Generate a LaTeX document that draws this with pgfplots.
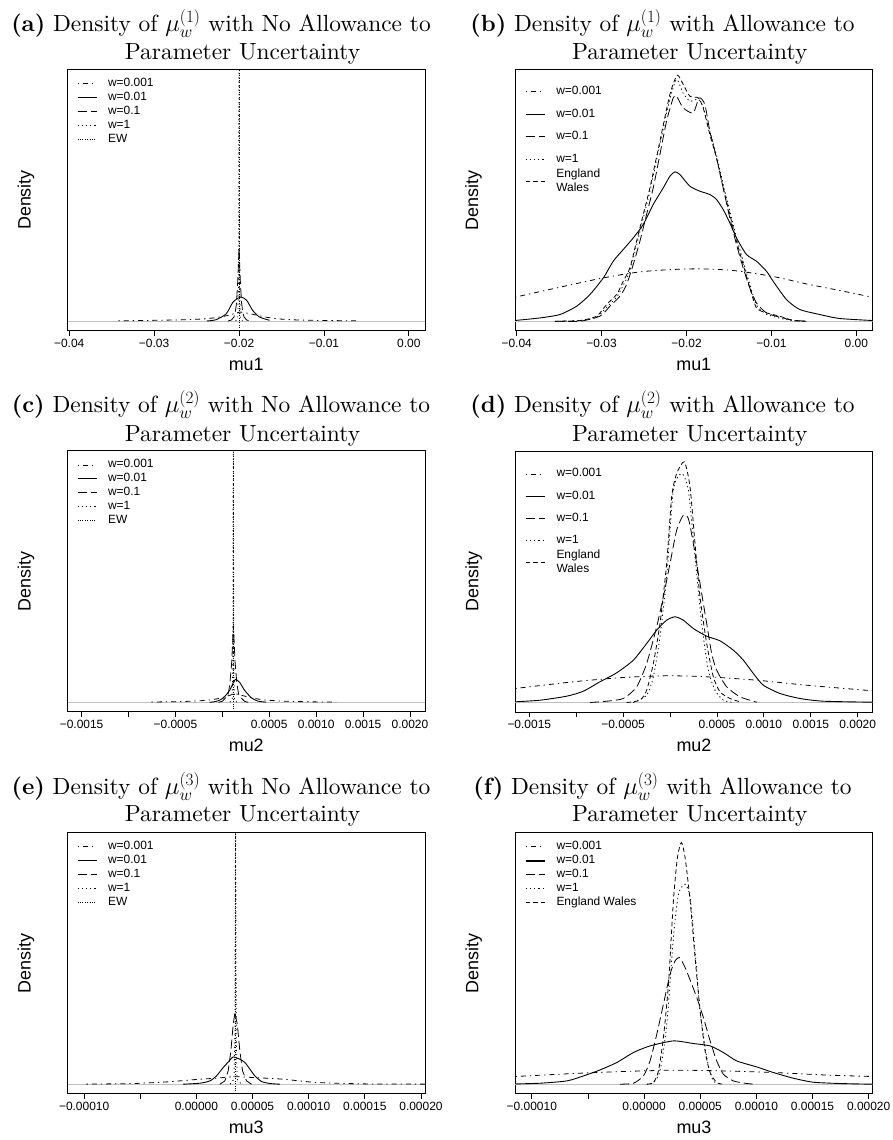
\documentclass[border=0pt]{standalone}
\usepackage{fontspec}
\usepackage{pgfplots}
\pgfplotsset{compat=1.18}
\newfontfamily\arial{Liberation Sans}
\newfontfamily\titrm{lmroman10-regular.otf}[BoldFont=lmroman10-bold.otf]
\newcommand\tickfont{\arial\fontsize{12}{14}\selectfont}
\newcommand\labfont{\arial\fontsize{18}{21}\selectfont}
\newcommand\legfont{\arial\fontsize{12}{14}\selectfont}
\newcommand\titfont{\titrm\fontsize{23.5}{28}\selectfont}
\newcommand\lt[1]{{\legfont\strut #1}}
\tikzset{
  s001/.style={black,line width=0.8bp,dash pattern=on 1.3bp off 4bp on 5bp off 4bp},
  s01/.style={black,line width=0.9bp},
  s1/.style={black,line width=0.8bp,dash pattern=on 9bp off 4bp},
  sw1/.style={black,line width=0.8bp,dash pattern=on 1.2bp off 3bp},
  sEWa/.style={black,line width=0.8bp,dash pattern=on 1bp off 1.4bp},
  sEW/.style={black,line width=0.8bp,dash pattern=on 4.5bp off 3bp},
  gline/.style={black!25,line width=0.9bp},
}
\pgfplotsset{
  rpanel/.style={
    anchor=north west, scale only axis, width=357.5bp, height=261bp,
    ymin=-9.5, ymax=251.5, ytick=\empty, xtick pos=bottom, tick align=outside,
    major tick length=5bp, scaled x ticks=false,
    axis line style={line width=0.75bp},
    every tick/.style={black,line width=0.75bp},
    xticklabel style={font=\tickfont},
    ylabel={Density},
    ylabel style={font=\labfont, at={(axis description cs:-0.116,0.5)}, anchor=center},
    xlabel style={font=\labfont, at={(axis description cs:0.5,-0.153)}, anchor=base},
    legend style={draw=none, fill=none, at={(axis description cs:0,1)}, anchor=north west,
      xshift=9.5bp, font=\legfont, inner sep=0bp, row sep=0bp, column sep=11bp,
      nodes={inner sep=0bp, text height=9.8pt, text depth=4.2pt}},
    legend cell align=left,
    legend image code/.code={\draw[##1] (0bp,0bp) -- (19bp,0bp);},
  },
  xa/.style={xmin=-0.0402, xmax=0.0019, xtick={-0.04,-0.03,-0.02,-0.01,0},
    xticklabels={−0.04,−0.03,−0.02,−0.01,0.00}, xlabel={mu1}},
  xc/.style={xmin=-0.00165, xmax=0.00216,
    xtick={-0.0015,-0.001,-0.0005,0,0.0005,0.001,0.0015,0.002},
    xticklabels={−0.0015,,−0.0005,,0.0005,0.0010,0.0015,0.0020}, xlabel={mu2}},
  xe/.style={xmin=-0.0001148, xmax=0.0002036,
    xtick={-0.0001,-0.00005,0,0.00005,0.0001,0.00015,0.0002},
    xticklabels={−0.00010,,0.00000,0.00005,0.00010,0.00015,0.00020}, xlabel={mu3}},
}
\begin{document}
\begin{tikzpicture}
\useasboundingbox (0bp,0bp) rectangle (893bp,-1140bp);

% ---------------- titles ----------------
\node[anchor=base] at (221bp,-31.7bp) {\titfont\textbf{(a)} Density of $\mu_w^{(1)}$ with No Allowance to};
\node[anchor=base] at (242.5bp,-59.3bp) {\titfont Parameter Uncertainty};
\node[anchor=base] at (662.5bp,-31.7bp) {\titfont\textbf{(b)} Density of $\mu_w^{(1)}$ with Allowance to};
\node[anchor=base] at (689.7bp,-59.3bp) {\titfont Parameter Uncertainty};
\node[anchor=base] at (221bp,-412.7bp) {\titfont\textbf{(c)} Density of $\mu_w^{(2)}$ with No Allowance to};
\node[anchor=base] at (242.5bp,-441bp) {\titfont Parameter Uncertainty};
\node[anchor=base] at (662.5bp,-412.7bp) {\titfont\textbf{(d)} Density of $\mu_w^{(2)}$ with Allowance to};
\node[anchor=base] at (689.7bp,-441bp) {\titfont Parameter Uncertainty};
\node[anchor=base] at (221bp,-794bp) {\titfont\textbf{(e)} Density of $\mu_w^{(3)}$ with No Allowance to};
\node[anchor=base] at (242.5bp,-821.7bp) {\titfont Parameter Uncertainty};
\node[anchor=base] at (662.5bp,-794bp) {\titfont\textbf{(f)} Density of $\mu_w^{(3)}$ with Allowance to};
\node[anchor=base] at (689.7bp,-821.7bp) {\titfont Parameter Uncertainty};

% ---------------- (a) ----------------
\begin{axis}[rpanel, xa, at={(67.5bp,-69.5bp)}, legend style={yshift=-7bp}]
\addplot[gline, forget plot] coordinates {(-0.0402,0) (0.0019,0)};
\addplot[s001, smooth, tension=0.4, forget plot] coordinates {(-0.0342,0.2) (-0.0305,0.6) (-0.0266,1.2) (-0.0238,2.3) (-0.0219,4.5) (-0.0207,7) (-0.0199,9) (-0.0191,8) (-0.0180,6) (-0.0168,3.8) (-0.0152,2) (-0.0130,1) (-0.0100,0.5) (-0.0062,0.2)};
\addplot[s01, smooth, tension=0.4, forget plot] coordinates {(-0.0238,0) (-0.0227,1.3) (-0.0215,7.3) (-0.0207,19) (-0.0198,24) (-0.0191,20.7) (-0.0184,10.7) (-0.0176,4) (-0.0164,0.7)};
\addplot[s1, forget plot] coordinates {(-0.0213,0) (-0.0209,1) (-0.0206,4) (-0.02045,8) (-0.0203,18) (-0.02015,40) (-0.0200,73) (-0.01985,40) (-0.0197,18) (-0.01955,8) (-0.0194,4) (-0.0191,1) (-0.0187,0)};
\addplot[sw1, forget plot] coordinates {(-0.0204,0) (-0.02015,3) (-0.02005,40) (-0.0200,300) (-0.01995,40) (-0.01985,3) (-0.0196,0)};
\addplot[sEWa, forget plot] coordinates {(-0.0200,-9.5) (-0.0200,251.5)};
\addlegendimage{s001}\addlegendentry{\lt{w=0.001}}
\addlegendimage{s01}\addlegendentry{\lt{w=0.01}}
\addlegendimage{s1}\addlegendentry{\lt{w=0.1}}
\addlegendimage{sw1}\addlegendentry{\lt{w=1}}
\addlegendimage{sEWa}\addlegendentry{\lt{EW}}
\end{axis}

% ---------------- (b) ----------------
\begin{axis}[rpanel, xa, at={(515bp,-69.7bp)}, legend style={yshift=-15bp, row sep=8.5bp}]
\addplot[gline, forget plot] coordinates {(-0.0402,0) (0.0019,0)};
\addplot[s001, smooth, tension=0.5, forget plot] coordinates {(-0.040196,24) (-0.035294,33.3) (-0.029804,43.3) (-0.025490,49.3) (-0.021569,51.7) (-0.018431,52.3) (-0.014510,50.7) (-0.009804,44.7) (-0.005882,37.3) (-0.001961,30.7) (0.001882,24)};
\addplot[s01, smooth, tension=0.4, forget plot] coordinates {(-0.040196,0.7) (-0.037255,3.3) (-0.034902,6.7) (-0.032941,15) (-0.031373,26.7) (-0.029804,43.3) (-0.028627,60) (-0.027451,71.7) (-0.026275,83.3) (-0.025098,96.7) (-0.023922,116.7) (-0.022745,133.3) (-0.021961,145) (-0.021373,149.3) (-0.020784,146.7) (-0.019608,135) (-0.018431,130) (-0.017255,126.7) (-0.016471,121.7) (-0.015686,111.7) (-0.014902,98.3) (-0.014118,83.3) (-0.012941,66.7) (-0.011765,60) (-0.010588,50) (-0.009804,40) (-0.008235,21.7) (-0.006667,11.7) (-0.004314,6.7) (-0.001961,2.7) (0.001882,0.7)};
\addplot[s1, smooth, tension=0.4, forget plot] coordinates {(-0.035490,0) (-0.032549,0) (-0.030196,5) (-0.029020,15) (-0.027843,25) (-0.027059,36.7) (-0.026275,56.7) (-0.025490,80) (-0.024706,106.7) (-0.023922,133.3) (-0.023137,166.7) (-0.022353,200) (-0.021569,223.3) (-0.021176,225) (-0.020392,213.3) (-0.019216,208.3) (-0.018510,223.3) (-0.017843,216.7) (-0.017255,190) (-0.016471,163.3) (-0.015686,133.3) (-0.014902,103.3) (-0.014118,76.7) (-0.013333,53.3) (-0.012549,33.3) (-0.011765,18.3) (-0.010588,8.3) (-0.009020,4) (-0.007451,1) (-0.005882,0)};
\addplot[sw1, smooth, tension=0.4, forget plot] coordinates {(-0.034902,0) (-0.032549,0.7) (-0.030588,4) (-0.029412,14) (-0.028235,24) (-0.027451,36) (-0.026667,50) (-0.025882,76) (-0.025098,103) (-0.024314,130) (-0.023137,177) (-0.021961,222) (-0.021176,241.7) (-0.020392,228) (-0.019608,220) (-0.018627,222) (-0.018039,214) (-0.017255,190) (-0.016471,166) (-0.015686,137) (-0.014902,110) (-0.014118,84) (-0.013333,60) (-0.012549,37) (-0.011765,16) (-0.010588,7) (-0.009020,3) (-0.007451,0.5) (-0.006275,0)};
\addplot[sEW, smooth, tension=0.4, forget plot] coordinates {(-0.035490,0) (-0.032549,0.7) (-0.030588,5) (-0.029412,16.7) (-0.028235,26.7) (-0.027451,40) (-0.026667,53.3) (-0.025882,80) (-0.025098,106.7) (-0.024314,133.3) (-0.023137,180) (-0.021961,226.7) (-0.021098,246) (-0.020392,236.7) (-0.019608,225) (-0.018627,223.3) (-0.018039,213.3) (-0.017255,186.7) (-0.016471,163.3) (-0.015686,133.3) (-0.014902,106.7) (-0.014118,80) (-0.013333,56.7) (-0.012549,33.3) (-0.011765,13.3) (-0.010588,8.3) (-0.009020,5) (-0.007451,0.7) (-0.005882,0)};
\addlegendimage{s001}\addlegendentry{\lt{w=0.001}}
\addlegendimage{s01,line width=1.6bp}\addlegendentry{\lt{w=0.01}}
\addlegendimage{s1}\addlegendentry{\lt{w=0.1}}
\addlegendimage{sw1}\addlegendentry{\lt{w=1}}
\addlegendimage{sEW}\addlegendentry{\lt{\smash{\begin{tabular}[c]{@{}l@{}}England\\Wales\end{tabular}}}}
\end{axis}

% ---------------- (c) ----------------
\begin{axis}[rpanel, xc, at={(67.5bp,-450.8bp)}, legend style={yshift=-7bp}]
\addplot[gline, forget plot] coordinates {(-0.00165,0) (0.00216,0)};
\addplot[s001, smooth, tension=0.4, forget plot] coordinates {(-0.000755,0.3) (-0.000418,0.8) (-0.000170,2) (-0.0000285,4) (0.000078,7) (0.000131,8.5) (0.000184,7.5) (0.000291,5) (0.000433,2.5) (0.000645,1.2) (0.000929,0.5) (0.001212,0.2)};
\addplot[s01, smooth, tension=0.4, forget plot] coordinates {(-0.000135,0) (-0.000064,1) (0.000007,4) (0.000078,12) (0.0001135,19) (0.000142,23) (0.000184,20) (0.000238,12) (0.000309,4.5) (0.000379,1.2) (0.000468,0.2)};
\addplot[s1, forget plot] coordinates {(-0.000040,0) (0.000000,1) (0.000030,4) (0.000062,8) (0.000080,18) (0.000100,40) (0.000118,77) (0.000136,40) (0.000156,18) (0.000174,8) (0.000206,4) (0.000236,1) (0.000276,0)};
\addplot[sw1, forget plot] coordinates {(0.00008,0) (0.000105,3) (0.000112,40) (0.000117,300) (0.000122,40) (0.000129,3) (0.000155,0)};
\addplot[sEWa, forget plot] coordinates {(0.000117,-9.5) (0.000117,251.5)};
\addlegendimage{s001}\addlegendentry{\lt{w=0.001}}
\addlegendimage{s01}\addlegendentry{\lt{w=0.01}}
\addlegendimage{s1}\addlegendentry{\lt{w=0.1}}
\addlegendimage{sw1}\addlegendentry{\lt{w=1}}
\addlegendimage{sEWa}\addlegendentry{\lt{EW}}
\end{axis}

% ---------------- (d) ----------------
\begin{axis}[rpanel, xc, at={(515.2bp,-451bp)}, legend style={yshift=-16bp, row sep=8.2bp}]
\addplot[gline, forget plot] coordinates {(-0.00165,0) (0.00216,0)};
\addplot[s001, smooth, tension=0.5, forget plot] coordinates {(-0.0016493,14) (-0.0010309,20.7) (-0.0004979,25) (-0.0000359,26.7) (0.0003906,25.7) (0.0009236,22.3) (0.0014567,17.3) (0.0021603,11.7)};
\addplot[s01, smooth, tension=0.4, forget plot] coordinates {(-0.0016493,0.7) (-0.0013863,2.3) (-0.0011020,6.3) (-0.0009243,11.3) (-0.0007466,20.7) (-0.0005689,29.7) (-0.0003912,42.3) (-0.0002491,59) (-0.0001425,72.3) (-0.0000359,82.3) (0.0000530,85.7) (0.0001418,82.3) (0.0002484,74) (0.0003906,66.3) (0.0005327,61.7) (0.0006749,52.3) (0.0007815,42.3) (0.0008881,29) (0.0009947,17.3) (0.0011724,9) (0.0013856,4) (0.0016344,1.3) (0.0021603,0.3)};
\addplot[s1, smooth, tension=0.4, forget plot] coordinates {(-0.0008532,0) (-0.0006755,1.3) (-0.0004979,4) (-0.0003557,15.7) (-0.0002491,39) (-0.0001425,75.7) (-0.0000714,105.7) (0.0000000,139) (0.0000707,172.3) (0.0001418,187.3) (0.0001951,184) (0.0002484,159) (0.0003195,119) (0.0003906,79) (0.0004439,49) (0.0004972,32.3) (0.0006038,15.7) (0.0007459,5.7) (0.0009236,0.3)};
\addplot[sw1, smooth, tension=0.4, forget plot] coordinates {(-0.0003912,0) (-0.0002491,7.3) (-0.0001780,25.7) (-0.0001070,65.7) (-0.0000359,125.7) (0.0000352,212.3) (0.0001240,229) (0.0001951,212.3) (0.0002662,145.7) (0.0003373,79) (0.0004083,32.3) (0.0004794,12.3) (0.0005683,2.3) (0.0006749,0)};
\addplot[sEW, smooth, tension=0.4, forget plot] coordinates {(-0.0004623,0) (-0.0003202,2.3) (-0.0002491,12.3) (-0.0001780,39) (-0.0001070,79) (-0.0000359,139) (0.0000174,205.7) (0.0000707,229) (0.0001525,240.7) (0.0002129,215.7) (0.0002662,159) (0.0003195,105.7) (0.0003906,59) (0.0004617,25.7) (0.0005327,10.7) (0.0006393,4) (0.0007459,0.7)};
\addlegendimage{s001}\addlegendentry{\lt{w=0.001}}
\addlegendimage{s01,line width=1.6bp}\addlegendentry{\lt{w=0.01}}
\addlegendimage{s1}\addlegendentry{\lt{w=0.1}}
\addlegendimage{sw1}\addlegendentry{\lt{w=1}}
\addlegendimage{sEW}\addlegendentry{\lt{\smash{\begin{tabular}[c]{@{}l@{}}England\\Wales\end{tabular}}}}
\end{axis}

% ---------------- (e) ----------------
\begin{axis}[rpanel, xe, at={(67.5bp,-832.7bp)}, legend style={yshift=-7bp}]
\addplot[gline, forget plot] coordinates {(-0.0001148,0) (0.0002036,0)};
\addplot[s001, smooth, tension=0.4, forget plot] coordinates {(-0.0000979,0.1) (-0.0000563,0.7) (-0.0000266,2.3) (0.0000031,5) (0.0000179,6) (0.0000328,7.5) (0.0000506,6.7) (0.0000774,5) (0.0001071,1.7) (0.0001516,0.3) (0.0002036,0.1)};
\addplot[s01, smooth, tension=0.4, forget plot] coordinates {(-0.0000118,0) (0.0000031,1) (0.0000120,3.3) (0.0000179,8.3) (0.0000239,16.7) (0.0000298,24) (0.0000328,27.3) (0.0000387,25) (0.0000432,21.7) (0.0000477,15) (0.0000521,8.3) (0.0000581,2.7) (0.0000655,0.7) (0.0000744,0)};
\addplot[s1, forget plot] coordinates {(0.0000209,0) (0.0000254,3.3) (0.0000283,13.3) (0.0000307,33.3) (0.0000328,60) (0.0000343,71.7) (0.0000364,60) (0.0000387,33.3) (0.0000411,13.3) (0.0000447,3.3) (0.0000491,0)};
\addplot[sw1, forget plot] coordinates {(0.0000300,0) (0.0000335,5) (0.0000343,50) (0.0000349,300) (0.0000355,50) (0.0000363,5) (0.0000400,0)};
\addplot[sEWa, forget plot] coordinates {(0.0000349,-9.5) (0.0000349,251.5)};
\addlegendimage{s001}\addlegendentry{\lt{w=0.001}}
\addlegendimage{s01}\addlegendentry{\lt{w=0.01}}
\addlegendimage{s1}\addlegendentry{\lt{w=0.1}}
\addlegendimage{sw1}\addlegendentry{\lt{w=1}}
\addlegendimage{sEWa}\addlegendentry{\lt{EW}}
\end{axis}

% ---------------- (f) ----------------
\begin{axis}[rpanel, xe, at={(515.2bp,-832.7bp)}, legend style={yshift=-7bp}]
\addplot[gline, forget plot] coordinates {(-0.0001148,0) (0.0002036,0)};
\addplot[s001, smooth, tension=0.5, forget plot] coordinates {(-0.0001145,7.7) (-0.0000629,10.7) (-0.0000184,12.7) (0.0000261,14) (0.0000706,13.3) (0.0001151,11.7) (0.0001596,9.3) (0.0002036,7.7)};
\addplot[s01, smooth, tension=0.4, forget plot] coordinates {(-0.0001145,0.3) (-0.0000926,1) (-0.0000688,3.3) (-0.0000540,8.3) (-0.0000392,14.3) (-0.0000243,21.7) (-0.0000095,31.7) (0.0000053,38.3) (0.0000261,43.3) (0.0000439,40.7) (0.0000588,38.3) (0.0000706,31.7) (0.0000825,23.3) (0.0001003,17.3) (0.0001151,11.7) (0.0001329,6) (0.0001507,2) (0.0001745,0.7) (0.0002036,0)};
\addplot[s1, smooth, tension=0.4, forget plot] coordinates {(-0.0000214,0) (-0.0000095,1) (-0.0000006,8.3) (0.0000053,23.3) (0.0000113,50) (0.0000172,80) (0.0000231,110) (0.0000276,123.3) (0.0000315,126.7) (0.0000365,116.7) (0.0000424,100) (0.0000469,86.7) (0.0000528,66.7) (0.0000588,43.3) (0.0000647,23.3) (0.0000706,10) (0.0000795,3.3) (0.0000914,0.7) (0.0001003,0)};
\addplot[sw1, smooth, tension=0.4, forget plot] coordinates {(0.0000024,0) (0.0000083,1.7) (0.0000142,13.3) (0.0000202,60) (0.0000261,146.7) (0.0000306,190) (0.0000365,200) (0.0000410,186.7) (0.0000454,133.3) (0.0000499,73.3) (0.0000558,26.7) (0.0000602,6.7) (0.0000647,0)};
\addplot[sEW, smooth, tension=0.4, forget plot] coordinates {(0.0000024,0) (0.0000083,1.7) (0.0000128,13.3) (0.0000172,46.7) (0.0000217,100) (0.0000261,183.3) (0.0000297,226.7) (0.0000332,241.7) (0.0000365,226.7) (0.0000410,183.3) (0.0000454,126.7) (0.0000499,73.3) (0.0000543,33.3) (0.0000588,11.7) (0.0000647,1.7) (0.0000706,0)};
\addlegendimage{s001}\addlegendentry{\lt{w=0.001}}
\addlegendimage{s01,line width=1.6bp}\addlegendentry{\lt{w=0.01}}
\addlegendimage{s1}\addlegendentry{\lt{w=0.1}}
\addlegendimage{sw1}\addlegendentry{\lt{w=1}}
\addlegendimage{sEW}\addlegendentry{\lt{England Wales}}
\end{axis}
\end{tikzpicture}
\end{document}
